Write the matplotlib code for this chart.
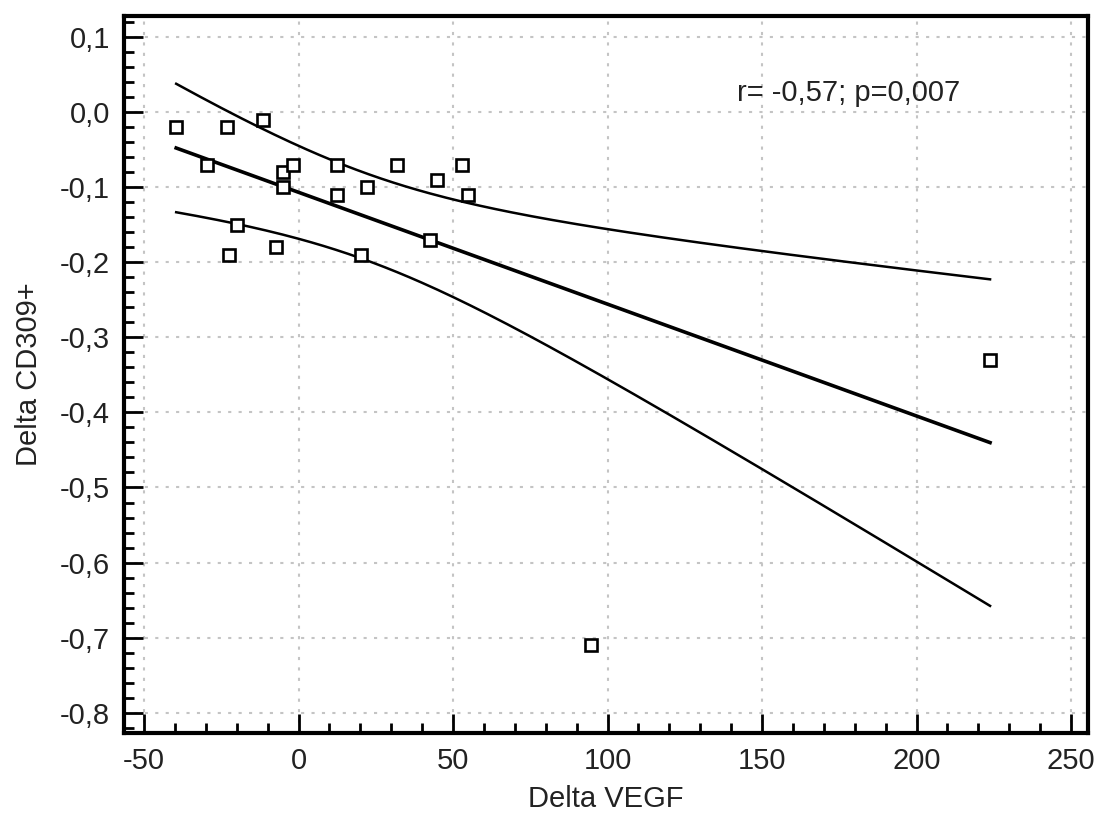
import numpy as np
import matplotlib.pyplot as plt
from matplotlib.ticker import MultipleLocator, FuncFormatter

plt.rcdefaults()
plt.rcParams['font.family'] = ['Liberation Sans', 'DejaVu Sans']

# data
delta_vegf = [-39.6, -29.6, -23.1, -11.5, -19.9, -22.5, -7.3, -5.0, -5.0, -1.8,
              12.5, 12.5, 22.2, 20.2, 31.9, 42.6, 44.8, 52.9, 54.9, 223.8, 94.7]
delta_cd309 = [-0.02, -0.07, -0.02, -0.01, -0.15, -0.19, -0.18, -0.08, -0.10, -0.07,
               -0.07, -0.11, -0.10, -0.19, -0.07, -0.17, -0.09, -0.07, -0.11, -0.33, -0.71]
stat_text = "r= -0,57; p=0,007"

x = np.array(delta_vegf)
y = np.array(delta_cd309)

# linear fit + 95% confidence band of the mean
n = len(x)
slope, intercept = np.polyfit(x, y, 1)
resid = y - (slope * x + intercept)
s = np.sqrt(np.sum(resid ** 2) / (n - 2))
xm = x.mean()
sxx = np.sum((x - xm) ** 2)
t_crit = 2.093  # t(0.975, df=19)

xf = np.linspace(x.min(), x.max(), 200)
yf = slope * xf + intercept
half = t_crit * s * np.sqrt(1 / n + (xf - xm) ** 2 / sxx)

fig = plt.figure(figsize=(10.97, 8.21), dpi=100)
ax = fig.add_axes([0.113, 0.1072, 0.8788, 0.8733])

ax.grid(True, which='major', color='#c4c4c4', linestyle=(0, (1.5, 3.5)), linewidth=1.5)
ax.set_axisbelow(True)

ax.plot(xf, yf, color='black', linewidth=2.6)
ax.plot(xf, yf + half, color='black', linewidth=1.8)
ax.plot(xf, yf - half, color='black', linewidth=1.8)

ax.plot(x, y, linestyle='none', marker='s', markersize=9, markerfacecolor='white',
        markeredgecolor='black', markeredgewidth=1.9, zorder=3)

ax.text(141.9, 0.025, stat_text, fontsize=21, va='center', ha='left', color='#222222')

ax.set_xlim(-56.5, 255.5)
ax.set_ylim(-0.827, 0.128)

ax.xaxis.set_major_locator(MultipleLocator(50))
ax.xaxis.set_minor_locator(MultipleLocator(10))
ax.yaxis.set_major_locator(MultipleLocator(0.1))
ax.yaxis.set_minor_locator(MultipleLocator(0.02))

ax.xaxis.set_major_formatter(FuncFormatter(lambda v, p: f"{v:.0f}"))
ax.yaxis.set_major_formatter(FuncFormatter(lambda v, p: f"{v:.1f}".replace('.', ',').replace('-0,0', '0,0')))

ax.tick_params(axis='both', which='major', direction='in', length=14, width=2,
               labelsize=21, pad=10, labelcolor='#222222')
ax.tick_params(axis='both', which='minor', direction='in', length=7, width=2)
ax.tick_params(top=False, right=False, which='both')

for sp in ax.spines.values():
    sp.set_linewidth(3)

ax.set_xlabel("Delta VEGF", fontsize=21, labelpad=7, color='#222222')
ax.set_ylabel("Delta CD309+", fontsize=21, labelpad=12, color='#222222')

plt.savefig("out.png", dpi=100)
plt.close()
